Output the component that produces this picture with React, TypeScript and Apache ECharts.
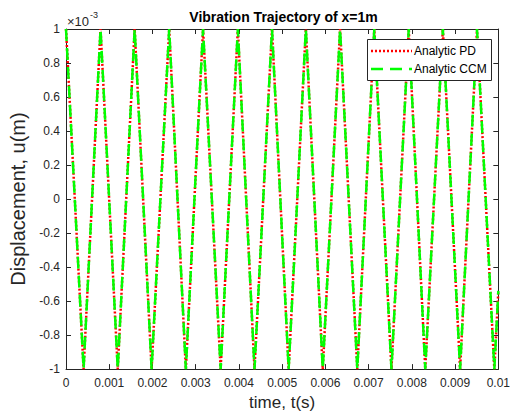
import React, { useEffect, useRef } from "react";
import * as echarts from "echarts";

// Vertices of the trajectory (time in s, displacement in units of 1e-3 m)
const vertexTimes = [
  0, 0.000407, 0.000799, 0.001197, 0.001588, 0.00198, 0.002387, 0.002772,
  0.00317, 0.003577, 0.003975, 0.00436, 0.004765, 0.00515, 0.005548, 0.005939,
  0.00634, 0.006738, 0.007131, 0.007528, 0.007928, 0.00831, 0.008717, 0.009116,
  0.009507, 0.009908, 0.01,
];
const pdValues = [
  1, -1, 1, -1, 1, -1, 1, -1, 1, -1, 1, -1, 1, -1, 1, -1, 1, -1, 1, -1, 1, -1,
  1, -1, 1, -1, -0.54,
];
const ccmValues = [
  1, -1, 1, -1, 1, -1, 1, -1, 1, -1, 1, -1, 1, -1, 1, -1, 1, -1, 1, -1, 1, -1,
  1, -1, 1, -1, -0.54,
];

const seriesNames = ["Analytic PD", "Analytic CCM"];
const titleText = "Vibration Trajectory of x=1m";
const xLabel = "time, t(s)";
const yLabel = "Displacement, u(m)";
const xMin = 0;
const xMax = 0.01;
const xStep = 0.001;
const yMin = -1;
const yMax = 1;
const yStep = 0.2;

const AXIS = "#262626";
const FONT = "'Liberation Sans', Arial, Helvetica, sans-serif";

export default function App() {
  const ref = useRef<HTMLDivElement>(null);

  useEffect(() => {
    document.body.style.margin = "0";
    if (!ref.current) return;
    const chart = echarts.init(ref.current, undefined, { renderer: "svg" });

    const pdData = vertexTimes.map((t, i) => [t, pdValues[i]]);
    const ccmData = vertexTimes.map((t, i) => [t, ccmValues[i]]);

    const gridLeft = 66;
    const gridRight = 12;
    const gridTop = 29;
    const gridBottom = 46;

    const fmtX = (v: number) => parseFloat(v.toFixed(3)).toString();
    const fmtY = (v: number) => parseFloat(v.toFixed(1)).toString();

    const baseX = {
      type: "value" as const,
      min: xMin,
      max: xMax,
      interval: xStep,
      splitLine: { show: false },
      axisLine: { show: true, onZero: false, lineStyle: { color: AXIS, width: 1 } },
      axisTick: { show: true, inside: true, length: 5, lineStyle: { color: AXIS, width: 1 } },
    };
    const baseY = {
      type: "value" as const,
      min: yMin,
      max: yMax,
      interval: yStep,
      splitLine: { show: false },
      axisLine: { show: true, onZero: false, lineStyle: { color: AXIS, width: 1 } },
      axisTick: { show: true, inside: true, length: 5, lineStyle: { color: AXIS, width: 1 } },
    };

    const legendX = 367;
    const legendY = 39;
    const legendW = 124;
    const legendH = 41;

    chart.setOption({
      animation: false,
      backgroundColor: "#ffffff",
      grid: { left: gridLeft, right: gridRight, top: gridTop, bottom: gridBottom, containLabel: false },
      xAxis: [
        {
          ...baseX,
          position: "bottom",
          name: xLabel,
          nameLocation: "middle",
          nameGap: 24,
          nameTextStyle: { color: AXIS, fontSize: 17, fontFamily: FONT },
          axisLabel: { show: true, color: AXIS, fontSize: 12, fontFamily: FONT, margin: 8, formatter: fmtX },
        },
        { ...baseX, position: "top", axisLabel: { show: false } },
      ],
      yAxis: [
        {
          ...baseY,
          position: "left",
          name: yLabel,
          nameLocation: "middle",
          nameGap: 33,
          nameTextStyle: { color: AXIS, fontSize: 20, fontFamily: FONT },
          axisLabel: { show: true, color: AXIS, fontSize: 12, fontFamily: FONT, margin: 6, formatter: fmtY },
        },
        { ...baseY, position: "right", axisLabel: { show: false } },
      ],
      series: [
        {
          name: seriesNames[0],
          type: "line",
          xAxisIndex: 0,
          yAxisIndex: 0,
          data: pdData,
          showSymbol: false,
          symbol: "none",
          lineStyle: { color: "#ff0000", width: 2.5, type: [2, 2], cap: "butt" },
          z: 2,
        },
        {
          name: seriesNames[1],
          type: "line",
          xAxisIndex: 0,
          yAxisIndex: 0,
          data: ccmData,
          showSymbol: false,
          symbol: "none",
          lineStyle: { color: "#00ff00", width: 2.5, type: [12, 7], cap: "butt" },
          z: 3,
        },
      ],
      graphic: [
        {
          type: "text",
          z: 100,
          x: gridLeft + (513 - gridLeft - gridRight) / 2,
          y: 17,
          style: {
            text: titleText,
            fill: "#000000",
            font: `bold 14px ${FONT}`,
            textAlign: "center",
            textVerticalAlign: "middle",
          },
        },
        {
          type: "text",
          z: 100,
          x: 67,
          y: 21,
          style: {
            text: "×10",
            fill: AXIS,
            font: `13px ${FONT}`,
            textAlign: "left",
            textVerticalAlign: "middle",
          },
        },
        {
          type: "text",
          z: 100,
          x: 90,
          y: 15,
          style: {
            text: "-3",
            fill: AXIS,
            font: `9px ${FONT}`,
            textAlign: "left",
            textVerticalAlign: "middle",
          },
        },
        {
          type: "rect",
          z: 100,
          shape: { x: legendX + 0.5, y: legendY + 0.5, width: legendW, height: legendH },
          style: { fill: "#ffffff", stroke: AXIS, lineWidth: 1 },
        },
        {
          type: "line",
          z: 101,
          shape: { x1: legendX + 4, y1: legendY + 12, x2: legendX + 45, y2: legendY + 12 },
          style: { stroke: "#ff0000", lineWidth: 2.5, lineDash: [2, 2] },
        },
        {
          type: "text",
          z: 101,
          x: legendX + 47,
          y: legendY + 12,
          style: {
            text: seriesNames[0],
            fill: "#000000",
            font: `12px ${FONT}`,
            textAlign: "left",
            textVerticalAlign: "middle",
          },
        },
        {
          type: "line",
          z: 101,
          shape: { x1: legendX + 4, y1: legendY + 30, x2: legendX + 45, y2: legendY + 30 },
          style: { stroke: "#00ff00", lineWidth: 2.5, lineDash: [12, 7] },
        },
        {
          type: "text",
          z: 101,
          x: legendX + 47,
          y: legendY + 30,
          style: {
            text: seriesNames[1],
            fill: "#000000",
            font: `12px ${FONT}`,
            textAlign: "left",
            textVerticalAlign: "middle",
          },
        },
      ],
    });

    return () => {
      chart.dispose();
    };
  }, []);

  return <div ref={ref} style={{ width: 513, height: 416 }} />;
}
